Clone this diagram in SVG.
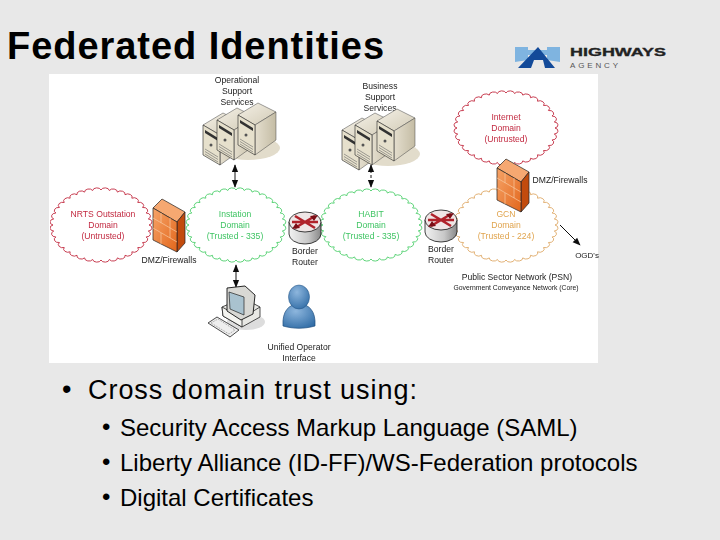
<svg xmlns="http://www.w3.org/2000/svg" width="720" height="540" viewBox="0 0 720 540">
<style>
text{font-family:"Liberation Sans",Arial,sans-serif}
.l{font-size:8.6px;fill:#222;text-anchor:middle}
.r{font-size:8.6px;fill:#c22a40;text-anchor:middle}
.g{font-size:8.6px;fill:#3fc463;text-anchor:middle}
.o{font-size:8.6px;fill:#e0a44e;text-anchor:middle}
.c{fill:none;stroke-width:.9;vector-effect:non-scaling-stroke}
.b1{font-size:27px;letter-spacing:.95px;fill:#000}
.b2{font-size:24px;fill:#000}
.con{stroke:#111;stroke-width:1;fill:none;marker-end:url(#ah)}
</style>
<defs>
<marker id="ah" viewBox="0 0 10 10" refX="9" refY="5" markerWidth="8" markerHeight="8" orient="auto-start-reverse"><path d="M0 1L10 5L0 9Z" fill="#111"/></marker>
<linearGradient id="sf" x1="0" y1="0" x2="1" y2="0"><stop offset="0" stop-color="#e4dece"/><stop offset="1" stop-color="#c4bca4"/></linearGradient>
<linearGradient id="sr" x1="0" y1="0" x2="1" y2="1"><stop offset="0" stop-color="#f4f0e6"/><stop offset="1" stop-color="#d2cbb6"/></linearGradient>
<linearGradient id="ff" x1="0" y1="0" x2="1" y2="1"><stop offset="0" stop-color="#f6a468"/><stop offset="1" stop-color="#e2661c"/></linearGradient>
<linearGradient id="rt" x1="0" y1="0" x2="1" y2="0"><stop offset="0" stop-color="#f2f2f2"/><stop offset=".6" stop-color="#c8c8c8"/><stop offset="1" stop-color="#888"/></linearGradient>
<radialGradient id="pb" cx=".4" cy=".3" r=".8"><stop offset="0" stop-color="#8db6dd"/><stop offset="1" stop-color="#2f6ba5"/></radialGradient>
<filter id="soft" x="0" y="0" width="1" height="1"><feGaussianBlur stdDeviation="0.4"/></filter>
<path id="cloud" class="c" d="M100 0A9 9 0 0 1 98.500 17.400A9 9 0 0 1 94 34.200A9 9 0 0 1 86.600 50A9 9 0 0 1 76.600 64.300A9 9 0 0 1 64.300 76.600A9 9 0 0 1 50 86.600A9 9 0 0 1 34.200 94A9 9 0 0 1 17.400 98.500A9 9 0 0 1 0 100A9 9 0 0 1 -17.400 98.500A9 9 0 0 1 -34.200 94A9 9 0 0 1 -50 86.600A9 9 0 0 1 -64.300 76.600A9 9 0 0 1 -76.600 64.300A9 9 0 0 1 -86.600 50A9 9 0 0 1 -94 34.200A9 9 0 0 1 -98.500 17.400A9 9 0 0 1 -100 0A9 9 0 0 1 -98.500 -17.400A9 9 0 0 1 -94 -34.200A9 9 0 0 1 -86.600 -50A9 9 0 0 1 -76.600 -64.300A9 9 0 0 1 -64.300 -76.600A9 9 0 0 1 -50 -86.600A9 9 0 0 1 -34.200 -94A9 9 0 0 1 -17.400 -98.500A9 9 0 0 1 0 -100A9 9 0 0 1 17.400 -98.500A9 9 0 0 1 34.200 -94A9 9 0 0 1 50 -86.600A9 9 0 0 1 64.300 -76.600A9 9 0 0 1 76.600 -64.300A9 9 0 0 1 86.600 -50A9 9 0 0 1 94 -34.200A9 9 0 0 1 98.500 -17.400A9 9 0 0 1 100 0Z"/>
<g id="server">
<path d="M0 12L17 22L38 9L20 0Z" fill="url(#sr)" stroke="#444" stroke-width=".5"/>
<path d="M17 22L38 9L38 37L17 52Z" fill="url(#sf)" stroke="#444" stroke-width=".5"/>
<path d="M0 12L17 22L17 52L0 42Z" fill="#e6e0cc" stroke="#222" stroke-width=".6"/>
<path d="M2 17L15 25L15 28L2 20Z" fill="#333"/>
<circle cx="8" cy="32" r="1.500" fill="#555"/>
<path d="M2 36L15 44M2 38.500L15 46.500M2 41L15 49" stroke="#666" stroke-width=".6"/>
</g>
<g id="firewall">
<path d="M153 208L162 199L185 212L177 222Z" fill="#f6a871" stroke="#222" stroke-width=".7"/>
<path d="M177 222L185 212L185 243L177 252Z" fill="#c24c10" stroke="#222" stroke-width=".7"/>
<path d="M153 208L177 222L177 252L153 240Z" fill="url(#ff)" stroke="#222" stroke-width=".7"/>
<path d="M153 218L177 232M153 228L177 242M161 213L161 223M170 218L170 228M161 233L161 244M170 228L170 238" stroke="#f8c9a0" stroke-width=".7" fill="none"/>
</g>
<g id="router">
<path d="M-16 -10V2A16 10 0 0 0 16 2V-10Z" fill="url(#rt)" stroke="#111" stroke-width=".8"/>
<ellipse cx="0" cy="-10" rx="16" ry="10" fill="#efe6e6" stroke="#111" stroke-width=".8"/>
<path d="M-10 -16L10 -4M-10 -4L10 -16M-13 -10H13" stroke="#b0202a" stroke-width="2.600"/>
<path d="M-13 -3L-5 -4L-9 -9ZM13 -17L5 -16L9 -11Z" fill="#7a1018"/>
</g>
</defs>
<rect width="720" height="540" fill="#e8e8e8"/>
<text x="7" y="59" font-size="38" font-weight="700" letter-spacing=".95" fill="#000" id="title">Federated Identities</text>
<g id="logo">
<path d="M515 47H528V50H547V47H560V62L547 60V55H528V60L515 62Z" fill="#7fb4e0"/>
<path d="M518 68L538 47L555 68H545L543 60H534L531 68Z" fill="#134a99"/>
<text x="570" y="56" font-size="11" font-weight="700" textLength="96" lengthAdjust="spacingAndGlyphs" stroke="#222" stroke-width=".3" fill="#222">HIGHWAYS</text>
<text x="570" y="68" font-size="8" textLength="48" fill="#555">AGENCY</text>
</g>
<rect x="49" y="74" width="549" height="289" fill="#fff"/>
<g filter="url(#soft)">
<g id="connectors">
<path class="con" d="M235 165V187" marker-start="url(#ah)"/>
<path class="con" d="M371 165V187" marker-start="url(#ah)" stroke-dasharray="3 2"/>
<path class="con" d="M236 265V287" marker-start="url(#ah)"/>
<path class="con" d="M560 225L580 245"/>
</g>
<g id="clouds">
<use href="#cloud" stroke="#c22a40" transform="translate(101 225) scale(.48 .35)"/>
<use href="#cloud" stroke="#4ecf6c" transform="translate(236 225) scale(.47 .35)"/>
<use href="#cloud" stroke="#4ecf6c" transform="translate(371 225) scale(.48 .34)"/>
<use href="#cloud" stroke="#dfa968" transform="translate(506 225) scale(.49 .35)"/>
<use href="#cloud" stroke="#c22a40" transform="translate(506 128) scale(.49 .35)"/>
</g>
<g id="n-ops">
<ellipse cx="248" cy="148" rx="32" ry="12" fill="#e2dccb"/>
<use href="#server" transform="translate(203 113)"/>
<use href="#server" transform="translate(217 108)"/>
<use href="#server" transform="translate(238 103)"/>
<text class="l" x="237" y="83">Operational</text><text class="l" x="237" y="94">Support</text><text class="l" x="237" y="105">Services</text>
</g>
<g id="n-biz">
<text class="l" x="380" y="89">Business</text><text class="l" x="380" y="100">Support</text><text class="l" x="380" y="111">Services</text>
<ellipse cx="388" cy="154" rx="32" ry="12" fill="#e2dccb"/>
<use href="#server" transform="translate(342 118)"/>
<use href="#server" transform="translate(355 113)"/>
<use href="#server" transform="translate(377 109)"/>
</g>
<g id="n-nrts">
<text class="r" x="103" y="217">NRTS Outstation</text><text class="r" x="103" y="228">Domain</text><text class="r" x="103" y="239">(Untrusted)</text>
</g>
<g id="n-fw1">
<use href="#firewall"/>
<text class="l" x="169" y="263">DMZ/Firewalls</text>
</g>
<g id="n-inst">
<text class="g" x="235" y="217">Instation</text><text class="g" x="235" y="228">Domain</text><text class="g" x="235" y="239">(Trusted - 335)</text>
</g>
<g id="n-r1">
<use href="#router" transform="translate(305 232)"/>
<text class="l" x="305" y="254">Border</text><text class="l" x="305" y="265">Router</text>
</g>
<g id="n-habit">
<text class="g" x="371" y="217">HABIT</text><text class="g" x="371" y="228">Domain</text><text class="g" x="371" y="239">(Trusted - 335)</text>
</g>
<g id="n-r2">
<use href="#router" transform="translate(441 230)"/>
<text class="l" x="441" y="252">Border</text><text class="l" x="441" y="263">Router</text>
</g>
<g id="n-gcn">
<text class="o" x="506" y="217">GCN</text><text class="o" x="506" y="228">Domain</text><text class="o" x="506" y="239">(Trusted - 224)</text>
</g>
<g id="n-inet">
<text class="r" x="506" y="120">Internet</text><text class="r" x="506" y="131">Domain</text><text class="r" x="506" y="142">(Untrusted)</text>
</g>
<g id="n-fw2">
<use href="#firewall" transform="translate(344 -40)"/>
<text class="l" x="560" y="183">DMZ/Firewalls</text>
</g>
<g id="n-ogd"><text class="l" x="587" y="258" style="font-size:8px">OGD's</text></g>
<g id="n-psn">
<text class="l" x="517" y="280">Public Sector Network (PSN)</text>
<text class="l" x="516" y="290" style="font-size:6.800px">Government Conveyance Network (Core)</text>
</g>
<g id="n-pc">
<ellipse cx="246" cy="322" rx="19" ry="8" fill="#ddd"/>
<path d="M222 307L243 298L260 307V317L242 327L223 316Z" fill="#e8e8e4" stroke="#222" stroke-width=".8"/>
<path d="M222 307L242 318V327L223 316ZM242 318L260 307" fill="#f4f4f0" stroke="#222" stroke-width=".8"/>
<path d="M227 288L245 286L255 295L253 314L241 320L227 311Z" fill="#d8d8d4" stroke="#111" stroke-width=".9"/>
<path d="M229 292L244 297L244 315L230 309Z" fill="#a9c2cf" stroke="#222" stroke-width=".7"/>
<path d="M208 323L217 317L239 330L230 337Z" fill="#eee" stroke="#222" stroke-width=".8"/>
<path d="M211 323L218 319L235 330L229 334Z" fill="none" stroke="#888" stroke-width=".8" stroke-dasharray="1 1"/>
</g>
<g id="n-user">
<path d="M283 326C282 311 289 304 299 304C309 304 316 311 315 326C304 329 294 329 283 326Z" fill="url(#pb)" stroke="#1f4f80" stroke-width=".7"/>
<ellipse cx="299" cy="297" rx="10.500" ry="12" fill="url(#pb)" stroke="#1f4f80" stroke-width=".5"/>
<text class="l" x="299" y="350">Unified Operator</text><text class="l" x="299" y="361">Interface</text>
</g>
</g>
<g id="bullets">
<text class="b1" x="62" y="398" style="letter-spacing:0">•</text>
<text class="b1" x="88" y="399">Cross domain trust using:</text>
<text class="b2" x="102" y="435">•</text><text class="b2" x="120" y="436">Security Access Markup Language (SAML)</text>
<text class="b2" x="102" y="470">•</text><text class="b2" x="120" y="471">Liberty Alliance (ID-FF)/WS-Federation protocols</text>
<text class="b2" x="102" y="505">•</text><text class="b2" x="120" y="506">Digital Certificates</text>
</g>
</svg>
